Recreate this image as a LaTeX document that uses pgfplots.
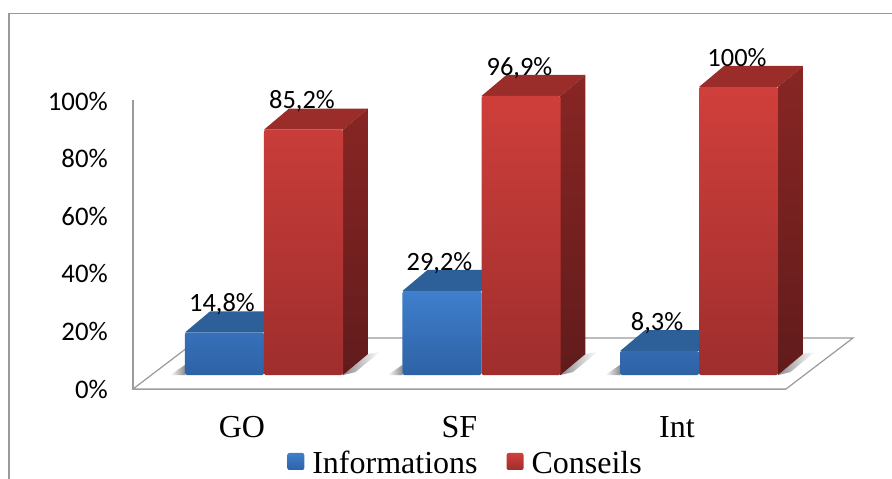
\documentclass[border=0pt]{standalone}
\usepackage{fontspec}
\setmainfont{Liberation Serif}
\newfontfamily\carlito{Carlito}
\usepackage{pgfplots}
\pgfplotsset{compat=1.18}

\definecolor{blueT}{HTML}{3F7FCC}
\definecolor{blueB}{HTML}{2E62A6}
\definecolor{blueTop}{HTML}{2D5F98}
\definecolor{redT}{HTML}{D03F3B}
\definecolor{redB}{HTML}{9E2E2D}
\definecolor{redTop}{HTML}{9A2C2A}
\definecolor{sideT}{HTML}{882624}
\definecolor{sideB}{HTML}{611B1B}
\definecolor{frameC}{HTML}{9A9A9A}

\pgfplotsset{
  face/.style={forget plot, draw=none, fill=#1},
  side/.style={forget plot, draw=none, top color=sideT, bottom color=sideB},
  shadowL/.style={forget plot, draw=none, left color=white, right color=black!45},
  shadowR/.style={forget plot, draw=none, left color=black!45, right color=white},
}

\begin{document}
\begin{tikzpicture}
\useasboundingbox (-133pt,-90pt) rectangle (759pt,389pt);
\draw[frameC, line width=1.2pt] (-124pt,-90pt) -- (-124pt,375.5pt) -- (759pt,375.5pt);
\begin{axis}[
  at={(0pt,0pt)}, anchor=south west,
  width=653pt, height=289pt, scale only axis,
  clip=false,
  xmin=-0.6023, xmax=2.4,
  ymin=-4.86, ymax=95.49,
  axis x line=bottom, axis y line=left,
  axis line style={-, frameC, line width=1.2pt},
  major tick length=0pt,
  xtick={0,1,2},
  xticklabels={GO,SF,Int},
  ytick={-4.86,15.14,35.14,55.14,75.14,95.14},
  yticklabels={0\%,20\%,40\%,60\%,80\%,100\%},
  xticklabel style={font=\fontsize{32}{34}\selectfont, xshift=-22pt, yshift=-24pt},
  yticklabel style={font=\fontsize{26.8}{28}\selectfont\carlito, inner sep=0pt, xshift=-25pt},
  no markers,
  legend columns=2,
  legend style={at={(0.5093,-0.256)}, anchor=center, draw=none, fill=none,
    font=\fontsize{32}{34}\selectfont, inner sep=0pt,
    /tikz/every odd column/.append style={column sep=6pt},
    /tikz/every even column/.append style={column sep=27pt}},
  legend image code/.code={\path[#1] (0pt,-7pt) rectangle (17pt,10pt);},
  nodes near coords style={font=\fontsize{26.4}{28}\selectfont\carlito, text=black,
    inner sep=0pt, text depth=0pt, yshift=20.5pt},
]
% floor
\addplot[forget plot, draw=frameC, line width=1.2pt, fill=white]
  coordinates {(-0.6023,-4.86) (2.4,-4.86) (2.708,12.85) (-0.2943,12.85)} --cycle;

% shadows on the floor
\addplot[shadowL] coordinates {(-0.432,0) (-0.363,0) (-0.363,3.5)} --cycle;
\addplot[shadowR] coordinates {(0.363,0) (0.478,7.3) (0.533,8) (0.42,1)} --cycle;
\addplot[shadowL] coordinates {(0.568,0) (0.637,0) (0.637,3.5)} --cycle;
\addplot[shadowR] coordinates {(1.363,0) (1.478,7.3) (1.533,8) (1.42,1)} --cycle;
\addplot[shadowL] coordinates {(1.568,0) (1.637,0) (1.637,3.5)} --cycle;
\addplot[shadowR] coordinates {(2.363,0) (2.478,7.3) (2.533,8) (2.42,1)} --cycle;

% blue tops
\addplot[face=blueTop] coordinates {(-0.363,14.8) (0,14.8) (0.115,22.1) (-0.248,22.1)} --cycle;
\addplot[face=blueTop] coordinates {(0.637,29.2) (1,29.2) (1.115,36.5) (0.752,36.5)} --cycle;
\addplot[face=blueTop] coordinates {(1.637,8.3) (2,8.3) (2.115,15.6) (1.752,15.6)} --cycle;

% Informations
\addplot[ybar, bar width=79pt, bar shift=-39.5pt, draw=none, rounded corners=2pt,
  top color=blueT, bottom color=blueB,
  point meta=explicit symbolic, nodes near coords,
  every node near coord/.append style={xshift=-42pt}]
  coordinates {(0,14.8) [14,8\%] (1,29.2) [29,2\%] (2,8.3) [8,3\%]};
\addlegendentry{Informations}

% red tops and sides
\addplot[face=redTop] coordinates {(0,85.2) (0.363,85.2) (0.478,92.5) (0.115,92.5)} --cycle;
\addplot[side] coordinates {(0.363,0) (0.363,85.2) (0.478,92.5) (0.478,7.3)} --cycle;
\addplot[face=redTop] coordinates {(1,96.9) (1.363,96.9) (1.478,104.2) (1.115,104.2)} --cycle;
\addplot[side] coordinates {(1.363,0) (1.363,96.9) (1.478,104.2) (1.478,7.3)} --cycle;
\addplot[face=redTop] coordinates {(2,100) (2.363,100) (2.478,107.3) (2.115,107.3)} --cycle;
\addplot[side] coordinates {(2.363,0) (2.363,100) (2.478,107.3) (2.478,7.3)} --cycle;

% Conseils
\addplot[ybar, bar width=79pt, bar shift=39.5pt, draw=none, rounded corners=2pt,
  top color=redT, bottom color=redB,
  point meta=explicit symbolic, nodes near coords,
  every node near coord/.append style={xshift=38pt}]
  coordinates {(0,85.2) [85,2\%] (1,96.9) [96,9\%] (2,100) [100\%]};
\addlegendentry{Conseils}
\end{axis}
\end{tikzpicture}
\end{document}
